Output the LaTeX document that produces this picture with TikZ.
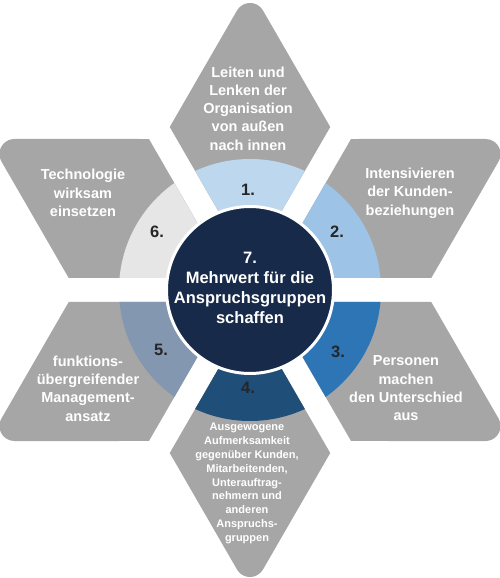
\documentclass[tikz,border=0pt]{standalone}
\usepackage{fontspec}
\setmainfont{Liberation Sans}
\usetikzlibrary{calc}
\definecolor{petalgrey}{HTML}{A6A6A6}
\definecolor{ringA}{HTML}{BDD7EE}
\definecolor{ringB}{HTML}{9DC3E6}
\definecolor{ringC}{HTML}{2E75B6}
\definecolor{ringD}{HTML}{1F4E79}
\definecolor{ringE}{HTML}{8497B0}
\definecolor{ringF}{HTML}{E7E6E6}
\definecolor{navy}{HTML}{172A4A}
\definecolor{numdark}{HTML}{262626}
\newcommand\drawpetal[2]{%
  \fill[petalgrey] (#1:24) -- ($(#1:24)+(#1-30:160.5)$)
    -- ($(#1:24)+(#1:278)+(#1+210:25.98)$)
    arc[start angle=#1-60, end angle=#1+60, radius=15]
    -- ($(#1:24)+(#1+30:160.5)$) -- cycle;
  \begin{scope}
    \clip (#1:24) -- ($(#1:24)+(#1-30:160.5)$)
      -- ($(#1:24)+(#1:278)$)
      -- ($(#1:24)+(#1+30:160.5)$) -- cycle;
    \fill[#2] (0,0) circle[radius=131];
  \end{scope}}
\begin{document}
\begin{tikzpicture}[x=1pt,y=1pt,
  petaltext/.style={text=white, align=center, inner sep=0pt,
    font=\bfseries\fontsize{14.5}{18.3}\selectfont},
  smalltext/.style={text=white, align=center, inner sep=0pt,
    font=\bfseries\fontsize{11}{13.8}\selectfont},
  numlabel/.style={text=numdark, inner sep=0pt,
    font=\bfseries\fontsize{16.5}{18}\selectfont},
  centertext/.style={text=white, align=center, inner sep=0pt,
    font=\bfseries\fontsize{16.5}{20}\selectfont}]
\useasboundingbox (-250,-288) rectangle (250,290);
\foreach \a/\col in {90/ringA, 30/ringB, -30/ringC, -90/ringD, -150/ringE, 150/ringF}{
  \drawpetal{\a}{\col}
}
\fill[navy, draw=white, line width=3pt] (0,0) circle[radius=83.5];
\node[centertext] (c7) at (0,2) {7.\\Mehrwert für die\\Anspruchsgruppen\\schaffen};
\node[numlabel] (n1) at (-2,100) {1.};
\node[numlabel] (n2) at (87,58) {2.};
\node[numlabel] (n3) at (88,-62) {3.};
\node[numlabel] (n4) at (-2,-98) {4.};
\node[numlabel] (n5) at (-89,-60) {5.};
\node[numlabel] (n6) at (-93,58) {6.};
\node[petaltext] (t1) at (-2,181.5) {Leiten und\\Lenken der\\Organisation\\von außen\\nach innen};
\node[petaltext] (t2) at (160,97) {Intensivieren\\der Kunden-\\beziehungen};
\node[petaltext] (t3) at (156,-98.5) {Personen\\machen\\den Unterschied\\aus};
\node[smalltext] (t4) at (-3,-193.5) {Ausgewogene\\Aufmerksamkeit\\gegenüber Kunden,\\Mitarbeitenden,\\Unterauftrag-\\nehmern und\\anderen\\Anspruchs-\\gruppen};
\node[petaltext] (t5) at (-162,-98.5) {funktions-\\übergreifender\\Management-\\ansatz};
\node[petaltext] (t6) at (-167,97) {Technologie\\wirksam\\einsetzen};
\end{tikzpicture}
\end{document}
